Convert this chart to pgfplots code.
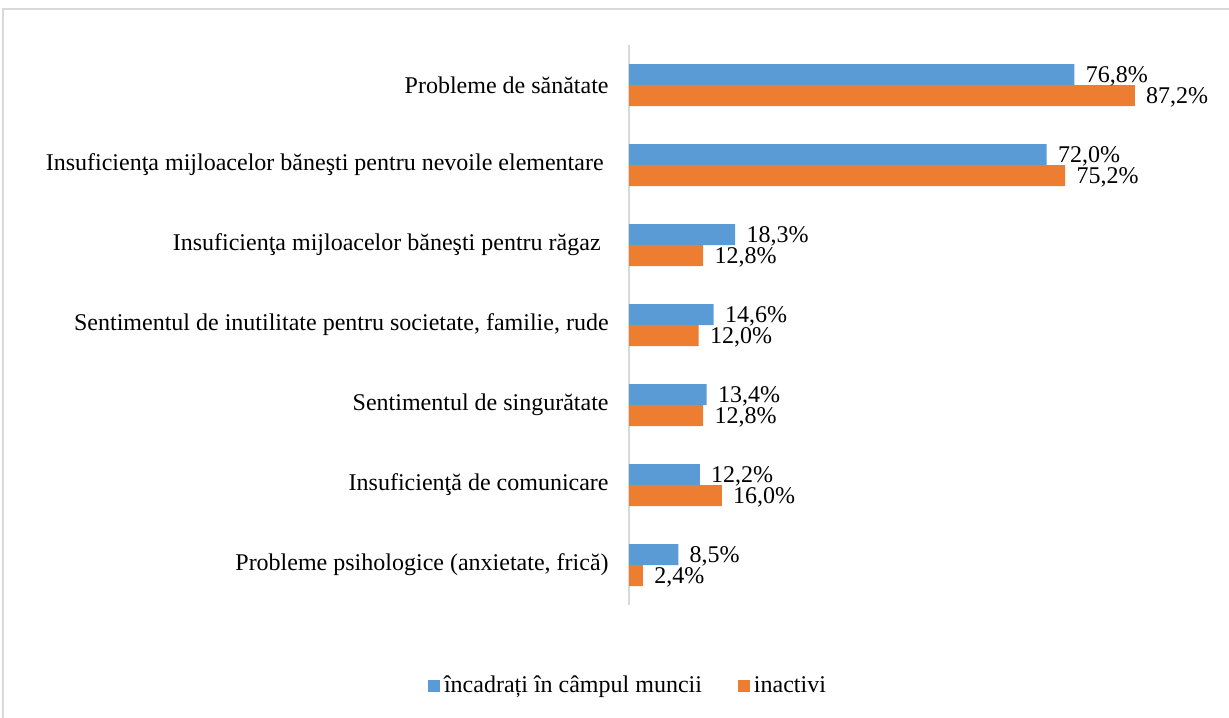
\documentclass[border=0pt,12pt]{standalone}
\usepackage{fontspec}
\setmainfont{Liberation Serif}
\usepackage{pgfplots}
\pgfplotsset{compat=1.18}
\definecolor{barblue}{HTML}{5B9BD5}
\definecolor{barorange}{HTML}{ED7D31}
\definecolor{framegray}{HTML}{D9D9D9}

\begin{document}
\begin{tikzpicture}
\path[use as bounding box] (0,0) rectangle (614.5pt,-358.5pt);
\clip (0,0) rectangle (614.5pt,-358.5pt);
\draw[framegray, line width=0.8pt] (1.5pt,-4.5pt) rectangle (640pt,-380pt);
\begin{axis}[
    at={(314.5pt,-302.5pt)}, anchor=south west,
    scale only axis, width=290pt, height=280pt,
    xbar, bar width=10.5pt,
    xmin=0, xmax=100, ymin=-0.5, ymax=6.5,
    axis x line=none, xtick=\empty,
    axis y line*=left,
    y axis line style={draw=framegray, line width=1pt, -},
    ytick={0,...,6}, major tick length=0pt,
    yticklabels={
        {Probleme psihologice (anxietate, frică)},
        {Insuficienţă de comunicare},
        {Sentimentul de singurătate},
        {Sentimentul de inutilitate pentru societate, familie, rude},
        {Insuficienţa mijloacelor băneşti pentru răgaz\kern4pt},
        {Insuficienţa mijloacelor băneşti pentru nevoile elementare\kern2.5pt},
        {Probleme de sănătate}},
    yticklabel style={anchor=east, inner sep=0pt, xshift=-10pt},
    nodes near coords={\pgfmathprintnumber[fixed,fixed zerofill,precision=1,use comma,assume math mode=true]{\pgfplotspointmeta}\%},
    every node near coord/.append style={anchor=west, inner sep=3pt, xshift=2.5pt, yshift=-1pt, text=black},
    legend columns=2,
    legend style={at={(0,-0.1446)}, anchor=center, draw=none, fill=none,
        /tikz/every even column/.append style={column sep=16pt}},
    legend image code/.code={\fill[#1] (0pt,-3pt) rectangle (6pt,3pt);},
    legend cell align=left,
]
\addplot[fill=barblue, draw=none, bar shift=5.25pt] coordinates {
    (8.5,0) (12.2,1) (13.4,2) (14.6,3) (18.3,4) (72.0,5) (76.8,6)
};
\addlegendentry{încadrați în câmpul muncii}
\addplot[fill=barorange, draw=none, bar shift=-5.25pt] coordinates {
    (2.4,0) (16.0,1) (12.8,2) (12.0,3) (12.8,4) (75.2,5) (87.2,6)
};
\addlegendentry{inactivi}
\end{axis}
\end{tikzpicture}
\end{document}
